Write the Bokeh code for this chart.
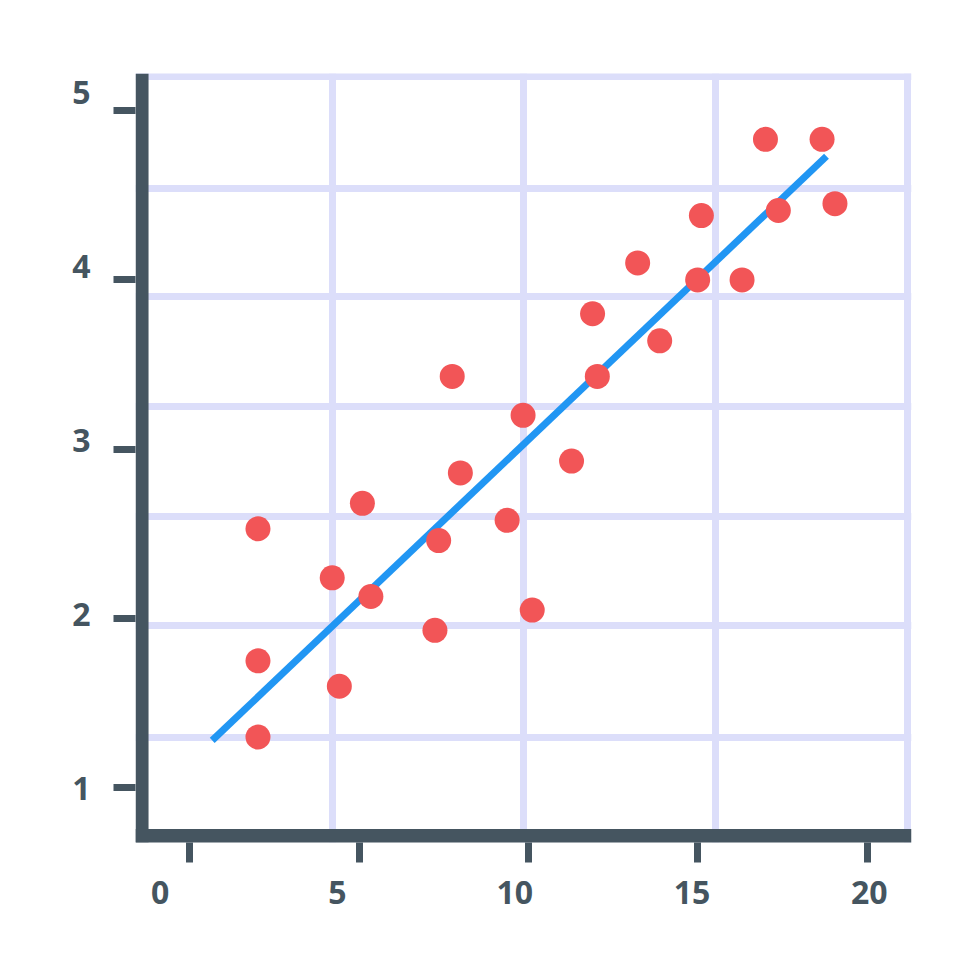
from bokeh.plotting import figure
from bokeh.models import Range1d, LinearAxis, FixedTicker, Span
from bokeh.embed import file_html
from bokeh.resources import INLINE

# ---- data ----
x_vals = [2.02, 5.10, 4.21, 5.35, 7.35, 7.24, 2.02, 4.42, 2.02, 7.75, 11.89, 13.87, 12.03,
          9.84, 7.99, 11.27, 9.37, 10.11, 16.99, 18.66, 15.10, 17.37, 19.04, 13.22, 14.99, 16.30]
y_vals = [2.53, 2.68, 2.24, 2.13, 2.46, 1.93, 1.75, 1.60, 1.30, 3.43, 3.80, 3.64, 3.43,
          3.20, 2.86, 2.93, 2.58, 2.05, 4.83, 4.83, 4.38, 4.41, 4.45, 4.10, 4.00, 4.00]
fit_x = [0.67, 18.79]
fit_y = [1.28, 4.73]
x_ticks = [0, 5, 10, 15, 20]
y_ticks = [1, 2, 3, 4, 5]
grid_x = [4.21, 9.86, 15.51, 21.17]
grid_y = [1.30, 1.96, 2.60, 3.25, 3.90, 4.54, 5.20]

DARK = "#455560"
GRID = "#dcdefa"
FONT = "Open Sans"

p = figure(width=964, height=964, output_backend="svg", toolbar_location=None,
           x_range=Range1d(-1.593, 21.298), y_range=Range1d(0.677, 5.219),
           min_border_left=135, min_border_top=73, min_border_right=53, min_border_bottom=122,
           outline_line_color=None, background_fill_color="white", border_fill_color="white")

# extra ranges for the tick labels (label spacing differs slightly from tick spacing)
p.extra_x_ranges = {"lbl": Range1d(-0.694, 21.19)}
p.extra_y_ranges = {"lbl": Range1d(0.691, 5.108)}

# grid
p.xgrid.ticker = FixedTicker(ticks=grid_x)
p.ygrid.ticker = FixedTicker(ticks=grid_y)
for g in (p.xgrid, p.ygrid):
    g.grid_line_color = GRID
    g.grid_line_width = 7

# tick-only axes
for ax in (p.xaxis[0], p.yaxis[0]):
    ax.axis_line_color = None
    ax.major_tick_in = 0
    ax.major_tick_line_color = DARK
    ax.major_tick_line_width = 7
    ax.minor_tick_line_color = None
    ax.major_label_text_font_size = "0px"
    ax.major_label_standoff = 0
p.xaxis[0].ticker = FixedTicker(ticks=x_ticks)
p.yaxis[0].ticker = FixedTicker(ticks=y_ticks)
p.xaxis[0].major_tick_out = 20
p.yaxis[0].major_tick_out = 22
p.xaxis[0].major_label_overrides = {t: "" for t in x_ticks}
p.yaxis[0].major_label_overrides = {t: "" for t in y_ticks}

# label-only axes
def label_axis(**kw):
    a = LinearAxis(**kw)
    a.axis_line_color = None
    a.major_tick_line_color = None
    a.minor_tick_line_color = None
    a.major_tick_in = 0
    a.major_tick_out = 0
    a.major_label_text_color = DARK
    a.major_label_text_font = FONT
    a.major_label_text_font_style = "bold"
    a.major_label_text_font_size = "32px"
    return a

xl = label_axis(x_range_name="lbl", ticker=FixedTicker(ticks=x_ticks))
xl.major_label_standoff = 18
p.add_layout(xl, "below")
yl = label_axis(y_range_name="lbl", ticker=FixedTicker(ticks=y_ticks))
yl.major_label_standoff = 23
p.add_layout(yl, "left")

# data
p.line(fit_x, fit_y, line_width=7, line_color="#2196f3")
p.scatter(x_vals, y_vals, size=25, fill_color="#f25557", line_color=None)

# thick axis lines
p.add_layout(Span(location=-1.40, dimension="height", line_color=DARK, line_width=13))
p.add_layout(Span(location=0.716, dimension="width", line_color=DARK, line_width=14))

open("out.html", "w").write(file_html(p, INLINE))
